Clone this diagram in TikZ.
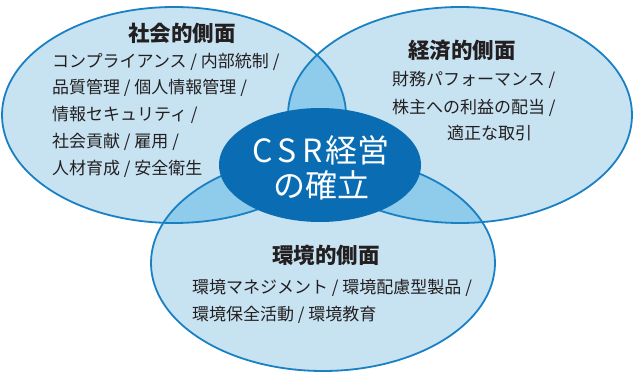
\documentclass[tikz,border=0pt]{standalone}
\usepackage{fontspec}
\setmainfont{Noto Sans CJK JP}
\definecolor{lightfill}{HTML}{C7E3F2}
\definecolor{ovlfill}{HTML}{8FCBEB}
\definecolor{rimblue}{HTML}{1A80C4}
\definecolor{corefill}{HTML}{0A6DB3}
\definecolor{inkdark}{HTML}{231F20}
\tikzset{
  rim/.style={draw=rimblue, line width=1.8pt},
  ttl/.style={inner sep=0pt, text=inkdark, font=\fontsize{21.5}{24}\selectfont\bfseries},
  itm/.style={inner sep=0pt, anchor=west, text=inkdark, font=\fontsize{17}{20}\selectfont},
  coretxt/.style={inner sep=0pt, text=white, font=\fontsize{32}{35}\selectfont}
}
\begin{document}
\begin{tikzpicture}[x=1pt,y=-1pt]
\useasboundingbox (0,0) rectangle (633,372);
\def\erx{172pt}\def\ery{108pt}
\coordinate (cL) at (174,115);
\coordinate (cR) at (460,115);
\coordinate (cB) at (323,263);
\coordinate (cC) at (320,165);
% base fills
\fill[lightfill] (cL) ellipse [x radius=\erx, y radius=\ery];
\fill[lightfill] (cR) ellipse [x radius=\erx, y radius=\ery];
\fill[lightfill] (cB) ellipse [x radius=\erx, y radius=\ery];
% overlaps
\begin{scope}
  \clip (cL) ellipse [x radius=\erx, y radius=\ery];
  \fill[ovlfill] (cR) ellipse [x radius=\erx, y radius=\ery];
  \fill[ovlfill] (cB) ellipse [x radius=\erx, y radius=\ery];
\end{scope}
\begin{scope}
  \clip (cR) ellipse [x radius=\erx, y radius=\ery];
  \fill[ovlfill] (cB) ellipse [x radius=\erx, y radius=\ery];
\end{scope}
% rims
\draw[rim] (cL) ellipse [x radius=\erx, y radius=\ery];
\draw[rim] (cR) ellipse [x radius=\erx, y radius=\ery];
\draw[rim] (cB) ellipse [x radius=\erx, y radius=\ery];
% core
\fill[corefill] (cC) ellipse [x radius=101pt, y radius=57pt];
% social
\node[ttl] (sT) at (182,33) {社会的側面};
\node[itm] (s1) at (52,61.5) {コンプライアンス / 内部統制 /};
\node[itm] (s2) at (52,88.3) {品質管理 / 個人情報管理 /};
\node[itm] (s3) at (52,115) {情報セキュリティ /};
\node[itm] (s4) at (52,141.7) {社会貢献 / 雇用 /};
\node[itm] (s5) at (52,168.5) {人材育成 / 安全衛生};
% economic
\node[ttl] (eT) at (462,50) {経済的側面};
\node[itm] (e1) at (392,80) {財務パフォーマンス /};
\node[itm] (e2) at (392,107.5) {株主への利益の配当 /};
\node[itm] (e3) at (447,133.5) {適正な取引};
% environment
\node[ttl] (vT) at (326,255) {環境的側面};
\node[itm] (v1) at (192,288) {環境マネジメント / 環境配慮型製品 /};
\node[itm] (v2) at (192,315) {環境保全活動 / 環境教育};
% core text
\node[coretxt] (c1) at (321,150) {C\hspace{5.5pt}S\hspace{5.5pt}R\hspace{3pt}経営};
\node[coretxt] (c2) at (321,185) {の確立};
\end{tikzpicture}
\end{document}
